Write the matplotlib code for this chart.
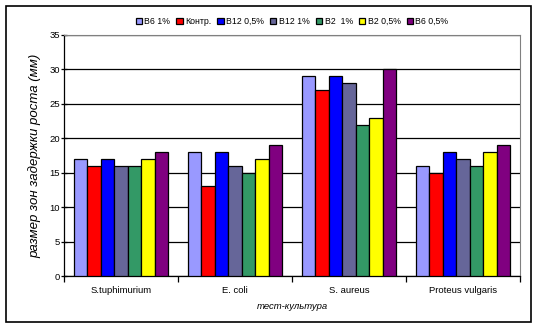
import matplotlib
matplotlib.use("Agg")
import matplotlib.pyplot as plt
from matplotlib.patches import Rectangle
import numpy as np

plt.rcParams['font.family'] = ['Liberation Sans', 'DejaVu Sans']

cultures = ['S.tuphimurium', 'E. coli', 'S. aureus', 'Proteus vulgaris']
series_names = ['B6 1%', 'Контр.', 'B12 0,5%', 'B12 1%', 'B2  1%', 'B2 0,5%', 'B6 0,5%']
series_values = [
    [17, 18, 29, 16],
    [16, 13, 27, 15],
    [17, 18, 29, 18],
    [16, 16, 28, 17],
    [16, 15, 22, 16],
    [17, 17, 23, 18],
    [18, 19, 30, 19],
]
colors = ['#9999ff', '#ff0000', '#0000ff', '#666699', '#339966', '#ffff00', '#800080']

W, H = 538, 328
fig = plt.figure(figsize=(W / 100, H / 100), dpi=100)

# outer chart frame
fig.patches.append(Rectangle((6 / W, 6 / H), 525 / W, 316 / H, transform=fig.transFigure,
                             fill=False, edgecolor='black', linewidth=1.2))

ax = fig.add_axes([64 / W, (H - 276) / H, (520 - 64) / W, (276 - 35) / H])

n_series = len(series_names)
bar_w = 1 / (n_series + 1.5)
x = np.arange(len(cultures))
for i, (name, vals) in enumerate(zip(series_names, series_values)):
    offs = (i - (n_series - 1) / 2) * bar_w
    ax.bar(x + offs, vals, bar_w, color=colors[i], edgecolor='black', linewidth=0.9,
           label=name, zorder=3)

ax.set_xlim(-0.5, len(cultures) - 0.5)
ax.set_ylim(0, 35)
ax.set_yticks(np.arange(0, 36, 5))
ax.yaxis.grid(True, color='black', linewidth=0.9, zorder=0)
ax.set_axisbelow(True)

ax.set_xticks(x)
ax.set_xticklabels(cultures, fontsize=6.8)
ax.tick_params(axis='x', length=0, pad=7)
ax.set_xticks(np.arange(-0.5, len(cultures)), minor=True)
ax.tick_params(axis='x', which='minor', length=4, direction='out', width=0.9)
ax.tick_params(axis='y', length=4, direction='inout', labelsize=6.8, width=0.9, pad=1)

for side in ['top', 'right']:
    ax.spines[side].set_color('#808080')
for side in ['left', 'bottom']:
    ax.spines[side].set_linewidth(0.9)

ax.set_ylabel('размер зон задержки роста (мм)', fontsize=9.5, style='italic', labelpad=6)
ax.set_xlabel('тест-культура', fontsize=6.8, style='italic', labelpad=5)

ax.legend(loc='lower center', bbox_to_anchor=(0.5, 1.0), ncol=n_series, frameon=False,
          fontsize=6.3, handlelength=0.7, handleheight=0.7, handletextpad=0.3,
          columnspacing=0.7, borderaxespad=0.6)

fig.savefig('out.png', dpi=100)
